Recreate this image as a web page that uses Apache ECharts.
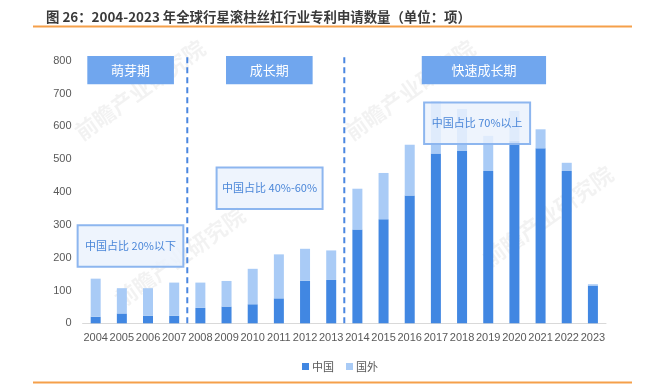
<!DOCTYPE html>
<html>
<head>
<meta charset="utf-8">
<script src="https://cdn.jsdelivr.net/npm/echarts@6/dist/echarts.min.js"></script>
<style>
html,body{margin:0;padding:0;background:#fff;}
#c{width:663px;height:384px;}
</style>
</head>
<body>
<div id="c"></div>
<script>
// ---- data ----
const years = ['2004','2005','2006','2007','2008','2009','2010','2011','2012','2013',
               '2014','2015','2016','2017','2018','2019','2020','2021','2022','2023'];
const china   = [20, 30, 23, 23, 47, 51, 58, 76, 130, 132, 286, 317, 389, 517, 525, 464, 555, 533, 464, 115];
const foreign = [116, 77, 84, 101, 77, 78, 108, 134, 97, 90, 124, 141, 155, 158, 128, 107, 92, 58, 25, 4];
const yTicks = [0, 100, 200, 300, 400, 500, 600, 700, 800];

// phase labels and share notes (x in category-index units, y in value units)
const phaseNames = ['萌芽期', '成长期', '快速成长期'];
const phaseX = [[-0.32, 2.99], [4.98, 8.29], [12.46, 17.21]];
const phaseY = [728, 814];
const noteNames = ['中国占比 20%以下', '中国占比 40%-60%', '中国占比 70%以上'];
const noteX = [[-0.69, 3.35], [4.62, 8.67], [12.55, 16.6]];
const noteY = [[172, 299], [348, 475], [546, 673]];
const dividers = [3.5, 9.5];
const dividerTop = 820;

const chart = echarts.init(document.getElementById('c'), null, {renderer: 'canvas'});
const cjk = '"Noto Sans CJK SC", "Noto Sans", sans-serif';
const lat = '"Liberation Sans", Arial, sans-serif';

const option = {
  animation: false,
  backgroundColor: '#fff',
  title: {
    text: '图 26：2004-2023 年全球行星滚柱丝杠行业专利申请数量（单位：项）',
    left: 41, top: 5,
    textStyle: {fontFamily: cjk, fontSize: 13.4, fontWeight: 'bold', color: '#3a3a3a'}
  },
  legend: {
    data: ['中国', '国外'],
    left: 297, top: 356,
    icon: 'rect', itemWidth: 7, itemHeight: 7, itemGap: 12,
    textStyle: {fontFamily: cjk, fontSize: 11, color: '#595959', padding: [0, 0, 0, -2]}
  },
  grid: {left: 82.6, right: 57, top: 60.7, bottom: 60.7},
  xAxis: [{
    type: 'category', data: years,
    axisLine: {lineStyle: {color: '#d9d9d9', width: 1}},
    axisTick: {show: false},
    axisLabel: {fontFamily: lat, fontSize: 11, color: '#595959', margin: 9, interval: 0}
  }, {
    type: 'value', min: -0.5, max: 19.5, show: false
  }],
  yAxis: {
    type: 'value', min: 0, max: 800, interval: 100,
    axisLine: {show: false}, axisTick: {show: false},
    splitLine: {show: false},
    axisLabel: {fontFamily: lat, fontSize: 11, color: '#595959', margin: 11,
      formatter: v => yTicks.indexOf(v) >= 0 ? String(v) : ''}
  },
  series: [{
    name: '中国', type: 'bar', stack: 'a', data: china, barWidth: 10,
    itemStyle: {color: '#4187e2'}, z: 2
  }, {
    name: '国外', type: 'bar', stack: 'a', data: foreign, barWidth: 10,
    itemStyle: {color: '#a9cbf6'}, z: 2
  }, {
    name: 'dividers', type: 'custom', xAxisIndex: 1, yAxisIndex: 0, clip: false, z: 3,
    data: dividers.map(d => [d, 0]),
    renderItem: (params, api) => {
      const p0 = api.coord([api.value(0), 0]);
      const p1 = api.coord([api.value(0), dividerTop]);
      return {type: 'line', shape: {x1: p0[0], y1: p0[1], x2: p1[0], y2: p1[1]},
        style: {stroke: '#4a86e0', lineWidth: 2, lineDash: [6, 4]}};
    }
  }, {
    name: 'phases', type: 'custom', xAxisIndex: 1, yAxisIndex: 0, clip: false, z: 4,
    data: phaseX.map(x => [x[0], phaseY[0]]),
    renderItem: (params, api) => {
      const i = params.dataIndex;
      const a = api.coord([phaseX[i][0], phaseY[1]]);
      const b = api.coord([phaseX[i][1], phaseY[0]]);
      return {type: 'group', children: [
        {type: 'rect', shape: {x: a[0], y: a[1], width: b[0] - a[0], height: b[1] - a[1]},
          style: {fill: '#70a6ee'}},
        {type: 'text', style: {text: phaseNames[i], x: (a[0] + b[0]) / 2, y: (a[1] + b[1]) / 2,
          align: 'center', verticalAlign: 'middle', fill: '#fff',
          font: '13px "Noto Sans CJK SC", sans-serif'}}
      ]};
    }
  }, {
    name: 'notes', type: 'custom', xAxisIndex: 1, yAxisIndex: 0, clip: false, z: 5,
    data: noteX.map(x => [x[0], 0]),
    renderItem: (params, api) => {
      const i = params.dataIndex;
      const a = api.coord([noteX[i][0], noteY[i][1]]);
      const b = api.coord([noteX[i][1], noteY[i][0]]);
      return {type: 'group', children: [
        {type: 'rect', shape: {x: a[0], y: a[1], width: b[0] - a[0], height: b[1] - a[1]},
          style: {fill: 'rgba(234,242,253,0.82)', stroke: '#8db6ef', lineWidth: 2}},
        {type: 'text', style: {text: noteNames[i], x: (a[0] + b[0]) / 2, y: (a[1] + b[1]) / 2,
          align: 'center', verticalAlign: 'middle', fill: '#4a86d8',
          font: '11px "Noto Sans CJK SC", sans-serif'}}
      ]};
    }
  }],
  graphic: [
    {type: 'line', shape: {x1: 33, y1: 26.5, x2: 632, y2: 26.5}, style: {stroke: '#f5a04a', lineWidth: 2}},
    {type: 'line', shape: {x1: 33, y1: 382.5, x2: 632, y2: 382.5}, style: {stroke: '#f5a04a', lineWidth: 2}},
    {type: 'text', x: 140, y: 90, rotation: 0.62, z: 1, style: {text: '前瞻产业研究院', align: 'center', verticalAlign: 'middle', font: 'bold 22px "Noto Sans CJK SC"', fill: 'rgba(0,0,0,0.05)'}},
    {type: 'text', x: 180, y: 257, rotation: 0.62, z: 1, style: {text: '前瞻产业研究院', align: 'center', verticalAlign: 'middle', font: 'bold 22px "Noto Sans CJK SC"', fill: 'rgba(0,0,0,0.05)'}},
    {type: 'text', x: 410, y: 90, rotation: 0.62, z: 1, style: {text: '前瞻产业研究院', align: 'center', verticalAlign: 'middle', font: 'bold 22px "Noto Sans CJK SC"', fill: 'rgba(0,0,0,0.05)'}},
    {type: 'text', x: 548, y: 216, rotation: 0.62, z: 1, style: {text: '前瞻产业研究院', align: 'center', verticalAlign: 'middle', font: 'bold 22px "Noto Sans CJK SC"', fill: 'rgba(0,0,0,0.05)'}}
  ]
};
chart.setOption(option);
</script>
</body>
</html>
